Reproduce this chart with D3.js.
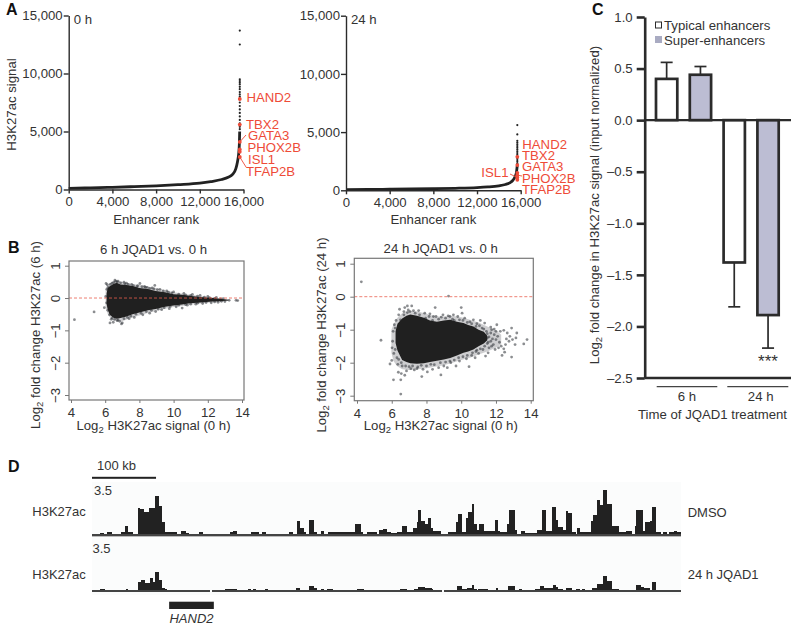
<!DOCTYPE html>
<html>
<head>
<meta charset="utf-8">
<script src="https://cdn.jsdelivr.net/npm/d3@7"></script>
<style>
body { margin: 0; background: #fff; }
svg { display: block; }
text { font-family: "Liberation Sans", Arial, sans-serif; fill: #333; }
</style>
</head>
<body>
<svg id="fig" width="791" height="626"></svg>
<script>
// A: enhancer rank plots, [rank, signal]
var rankCurve0h = [[0,100],[2000,140],[4000,190],[6000,250],[8000,320],[10000,420],[12000,550],[13000,680],[14000,860],[14600,1050],[15000,1300],[15300,1800],[15450,2400],[15550,3000],[15620,3900],[15650,5000]];
var topDots0h = [13700,12500,9500,9350,9200,9050,8850,8650,8400,8200,8000,7800,7500,7200,6900,6600,6300,6000,5700,5400,5200];
var genes = ["HAND2","TBX2","GATA3","PHOX2B","ISL1","TFAP2B"];
var geneSignal0h = [7800,5600,4100,3450,3250,2800];
var rankCurve24h = [[0,55],[2000,70],[4000,90],[6000,110],[8000,135],[10000,170],[12000,230],[13000,290],[14000,390],[14600,500],[15000,640],[15300,880],[15500,1200],[15620,1600],[15680,2100]];
var topDots24h = [5600,4800,4250,4100,3950,3800,3650,3500,3350,3200,3050,2900,2750,2600,2450,2300,2150];
var geneSignal24h = [2880,2170,1500,1300,1100,900];
var rankTicks = [0,4000,8000,12000,16000];
var signalTicks = [0,5000,10000,15000];

// B: MA plots, dense core and thinner halo as [log2 signal, low, high], plus the loose points around them
var maCore6h = [[6.08,-.18,.14],[6.14,-.34,.3],[6.25,-.5,.36],[6.45,-.6,.43],[6.67,-.64,.47],[6.9,-.62,.42],[7.25,-.57,.4],[7.6,-.5,.37],[8,-.45,.31],[8.5,-.38,.28],[8.95,-.34,.22],[9.5,-.27,.18],[10,-.23,.12],[10.5,-.2,.1],[10.95,-.16,.07],[11.4,-.15,.04],[11.9,-.12,.02],[12.3,-.11,0],[12.7,-.1,-.02],[13.2,-.08,-.05]];
var maHalo6h = [[6.02,-.28,.3],[6.15,-.5,.42],[6.4,-.68,.5],[6.7,-.72,.53],[7,-.72,.5],[7.5,-.62,.44],[8,-.54,.4],[8.5,-.46,.36],[9,-.4,.3],[9.5,-.33,.24],[10,-.28,.18],[10.5,-.25,.14],[11,-.2,.1],[11.5,-.18,.07],[12,-.15,.04],[12.5,-.12,.01],[13,-.1,-.03],[13.3,-.08,-.05]];
var maDots6h = [[4.2,-.67],[5.35,-.43],[5.95,-.3],[6.03,.05],[6.05,.45],[6.12,.41],[6.1,.27],[6.08,-.15],[6.15,-.38],[6.18,.33],[6.28,-.77],[6.47,-.75],[6.35,-.66],[6.4,.46],[6.57,.55],[6.62,.52],[6.75,.52],[6.85,-.72],[6.95,-.8],[7,-.77],[6.7,-.7],[7.1,.49],[7.25,.46],[7.4,-.64],[7.55,.42],[7.7,-.6],[7.9,.38],[8.03,.45],[8.2,-.52],[8.3,.36],[8.45,.33],[8.6,-.47],[8.9,.39],[8.75,.31],[8.95,-.42],[9.2,.27],[9.3,-.36],[9.6,.22],[9.75,-.33],[10,.19],[10.15,-.27],[10.5,-.31],[10.6,.14],[10.8,-.22],[11.1,.11],[11.3,-.19],[11.55,.08],[11.7,-.17],[12,.05],[12.2,-.15],[12.5,.02],[12.6,-.13],[12.9,-.02],[13,-.11],[13.25,-.07],[13.65,-.07],[13.75,-.08],
[6.3,.42],[6.5,.48],[6.7,.5],[6.9,.47],[7.15,.44],[7.35,.42],[7.65,.38],[7.85,.35],[8.15,.35],[8.35,.33],[8.6,.3],[8.85,.28],[9.05,.26],[9.4,.22],[9.7,.18],[9.9,.16],[10.3,.12],[10.7,.1],[11,.08],[11.4,.06],[11.8,.03],[12.1,.01],[12.4,-.01],[12.75,-.03],[6.25,-.52],[6.4,-.62],[6.55,-.66],[6.75,-.68],[7.1,-.64],[7.3,-.6],[7.5,-.56],[7.8,-.5],[8.1,-.47],[8.4,-.42],[8.7,-.38],[9.1,-.34],[9.45,-.3],[9.8,-.26],[10.3,-.22],[10.7,-.2],[11,-.19],[11.4,-.16],[11.9,-.14],[12.4,-.12],[12.8,-.1]];
var maCore24h = [[6.22,-1.4,-1.05],[6.33,-1.63,-.82],[6.6,-1.92,-.66],[6.85,-1.98,-.58],[7.07,-2.02,-.54],[7.45,-2.03,-.58],[7.85,-2.02,-.64],[8.2,-1.98,-.72],[8.6,-1.94,-.76],[9,-1.9,-.72],[9.37,-1.86,-.7],[9.75,-1.78,-.76],[10.13,-1.7,-.8],[10.4,-1.66,-.86],[10.7,-1.6,-.9],[11,-1.5,-1],[11.3,-1.42,-1.06],[11.5,-1.32,-1.18]];
var maHalo24h = [[5.98,-1.7,-1],[6.1,-1.95,-.85],[6.3,-2.1,-.65],[6.6,-2.2,-.5],[7,-2.22,-.42],[7.5,-2.2,-.45],[8,-2.17,-.52],[8.5,-2.12,-.6],[9,-2.08,-.6],[9.5,-2,-.58],[10,-1.92,-.62],[10.5,-1.85,-.7],[11,-1.75,-.78],[11.5,-1.66,-.9],[12,-1.55,-1.02],[12.3,-1.45,-1.15]];
var maDots24h = [[4.25,.45],[5.38,-1.32],[9.27,.02],[6.52,-2.95],[6.1,-2.52],[6.52,-2.52],[6.38,-2.29],[6,-1.93],[5.9,-2.04],[6.55,-2.33],[6.75,-2.38],[7.73,-2.42],[8.83,-2.37],[13.79,-1.3],[13.6,-1.43],[12.9,-1.83],[12.9,-.95],[12.05,-.85],[12.45,-1.02],[12.65,-1.1],[13.2,-1.1],[13.15,-1.25],[13.1,-1.45],[12.95,-1.3],[12.75,-1.35],[12.6,-1.28],[12.5,-1.68],[12.45,-1.58],[12.3,-1.5],[12.2,-1.38],[12.1,-1.2],[12,-1.05],[11.95,-1.6],[11.85,-1.45],[11.8,-1.28],[11.7,-1.1],[11.7,-.92],[11.6,-1.55],[11.55,-1.7],[11.5,-1.42],[11.45,-1.05],[11.35,-.8],[11.4,-1.8],[11.25,-1.6],[11.2,-.95],[11.1,-.72],[11,-1.72],[10.9,-.82],[10.8,-1.85],[10.7,-.7],[10.6,-1.78],[10.5,-.76],[10.45,-2.12],[10.3,-1.88],[10.2,-.65],[10.05,-.5],[10,-.33],[9.9,-1.95],[9.8,-.6],[9.7,-2.1],[9.55,-.55],[9.4,-2],[9.25,-.58],[9.2,-2.15],[9,-2.1],[8.95,-.55],[8.7,-2.15],[8.55,-.6],[8.5,-.33],[8.35,-2.2],[8.2,-.52],[8.05,-2.28],[7.9,-.5],[7.8,-2.2],[7.55,-.42],[7.45,-2.18],[7.25,-.42],[7.15,-.28],[7.1,-2.18],[6.95,-.4],[6.85,-2.25],[6.75,-.33],[6.7,-.45],[6.6,-2.1],[6.45,-.38],[6.4,-.55],[6.35,-2.05],[6.3,-1.85],[6.25,-.72],[6.15,-.85],[6.12,-1.72],[6.08,-1.05],[6.05,-1.35],[6.02,-1.55],[6.2,-.95],[6.2,-1.6],[6.9,-.28],[7.3,-2.22],[8.4,-.6],[9.6,-.72],[10.9,-1.62],[11.25,-1.28],[11.6,-1.22],[11.9,-.98],[12.25,-1.05],[12.35,-1.78],
[6.5,-.7],[6.7,-.55],[6.9,-.48],[7.05,-.45],[7.35,-.5],[7.6,-.55],[7.95,-.65],[8.15,-.6],[8.35,-.72],[8.7,-.68],[8.85,-.62],[9.1,-.65],[9.35,-.6],[9.5,-.68],[9.9,-.7],[10.1,-.72],[10.35,-.78],[10.6,-.82],[10.85,-.9],[11.05,-.88],[11.3,-.98],[11.5,-1.12],[11.75,-1],[6.4,-1.9],[6.55,-2],[6.8,-2.1],[7,-2.12],[7.2,-2.1],[7.5,-2.13],[7.7,-2.08],[8,-2.1],[8.25,-2.05],[8.45,-2.06],[8.8,-2],[9.1,-1.98],[9.35,-1.95],[9.6,-1.92],[9.85,-1.85],[10.1,-1.82],[10.35,-1.78],[10.65,-1.7],[10.85,-1.66],[11.1,-1.58],[11.35,-1.5],[11.55,-1.38],[11.75,-1.5],[12,-1.3],[11.9,-1.15],[12.15,-1.55],[11.5,-1.25],[11.7,-1.35],[12.55,-1.45],[12.8,-1.2]];
var maFcTicks = [-3,-2,-1,0,1];
var maSignalTicks = [4,6,8,10,12,14];

// C: mean change and the end of its error bar
var barGroups = ["6 h typical","6 h super","24 h typical","24 h super"];
var barValues = [.40,.44,-1.38,-1.89];
var barErrors = [.56,.52,-1.81,-2.21];
var barKinds = ["typical","super","typical","super"];
var changeTicks = [1,.5,0,-.5,-1,-1.5,-2,-2.5];

// D: tracks, [start kb, end kb, signal]
var dmsoTrack = [[12.5,18.7,.12],[24,30.7,.15],[44.8,51.6,.2],[51.6,56.8,.65],[56.8,63.5,.15],[72.4,75,1.95],[75,81.2,1.88],[81.2,89.6,1.7],[89.6,98.4,1.95],[98.4,105.2,2.92],[105.2,109.4,2.15],[109.4,114,.9],[114,132.3,.15],[139,146.9,.25],[146.9,151,.12],[167.2,173.4,.15],[215.6,219.8,.15],[219.8,226,.25],[248.4,260.4,.15],[266.1,272.4,.15],[307.8,314.6,.15],[319.8,325,1],[325,330.7,.5],[330.7,333.8,.15],[339.6,347.4,1.1],[347.4,351,.15],[357.8,362.5,.25],[369.2,379.6,.15],[379.6,384.9,.22],[384.9,411,.15],[411,419.8,.8],[419.8,424,.15],[430.2,444.8,.15],[448.4,455.2,.32],[455.2,460.4,.38],[460.4,466.6,.15],
[466.6,477,.08],[477,484.9,.15],[484.9,491.6,.6],[491.6,502,.15],[502,507.3,.5],[507.3,509.9,.95],[509.9,514,1.82],[514,520.3,1.02],[520.3,524.5,.75],[524.5,529.7,1.2],[529.7,533.3,.5],[533.3,545.3,.25],[556.7,568.2,.15],[568.2,571.3,.95],[571.3,577.6,1.5],[577.6,584.3,.15],[584.3,588,1.2],[588,593.2,1.65],[593.2,597.4,2.28],[597.4,601,.82],[601,605.2,.32],[605.2,612,.78],[612,629.7,.25],[629.7,634.9,1.1],[634.9,637.5,.25],[637.5,647.9,.15],[647.9,652,.82],[652,660.9,1.82],[660.9,664.5,.32],[669.8,676.5,.25],[676.5,694.8,.1],[694.8,702.6,.32],[702.6,708.8,1.82],[708.8,719.2,.25],[719.2,724.4,2.05],[724.4,728.6,1.08],[728.6,736.4,.58],[736.4,740.6,.32],[740.6,744.2,1.78],[744.2,749.4,1.58],[749.4,756.2,.15],[757.2,762.5,.45],[762.5,779.6,.15],[779.6,783.3,1],[783.3,788.5,1.45],[788.5,793.7,2.58],[793.7,798.9,2.2],[798.9,804.1,3.32],[804.1,811.9,2.32],[811.9,823.9,.62],[823.9,834.3,.2],[834.3,844.2,.25],[847.4,850,.65],[850,861.4,1.82],[861.4,864,.25],[864,870.8,.9],[870.8,874.4,1],[874.4,880.7,2.05],[880.7,888,.15],[891.6,897.9,.15],[902,908.3,.2],[908.3,914.5,.25],[914.5,920,.15]];
var jqadTrack = [[12.5,19.8,.1],[53.1,56.2,.08],[72.4,76,.62],[76,82.8,.82],[82.8,90.6,.58],[90.6,94.8,.95],[94.8,98.4,.62],[98.4,105.2,1.35],[105.2,109.4,.75],[109.4,114,.2],[114,116.7,.08],[208.3,215.6,.1],[215.6,226,.1],[244.3,247.9,.1],[252,256.2,.1],[270.3,274.5,.1],[318.7,325,.2],[339.6,347.4,.3],[347.4,351,.15],[357.3,362.5,.08],[367.7,377,.12],[413.5,421.3,.1],[421.3,425.5,.08],
[481.2,491.6,.12],[503.1,509.9,.12],[509.9,520.3,.28],[520.3,524.5,.18],[524.5,530.7,.22],[530.7,533.3,.08],[569.8,578.1,.3],[578.1,585.4,.12],[585.4,593.2,.22],[593.2,597.4,.42],[597.4,602,.1],[603.6,619.2,.08],[630.7,634.9,.2],[650.5,660.9,.3],[667.7,672.4,.08],[682.8,687,.06],[692.1,699.9,.12],[699.9,706.7,.3],[706.7,719.8,.22],[719.8,724.4,.42],[724.4,728.6,.25],[728.6,736.4,.12],[740,749.4,.22],[756.2,762.5,.08],[765,770.3,.08],[780.7,788.5,.18],[788.5,798.9,.5],[798.9,804.1,1.05],[804.1,811.9,.72],[811.9,823.4,.08],[849.4,857.2,.42],[857.2,862.5,.25],[862.5,871.8,.2],[874.4,880.7,.62]];
var jqadBaseline = [[0,184.4],[187.5,546.3],[549.4,920]];
var dmsoBaseline = [[0,920]];
var geneSpan = [120.5,190.3];

var INK = "#2b2b2b", RED = "#ee4b38", FONT = 13.2;
var svg = d3.select("#fig");

function label(x, y, str, opts) {
	opts = opts || {};
	var t = svg.append("text").attr("x", x).attr("y", y)
		.style("font-size", (opts.size || FONT) + "px");
	if (opts.anchor) t.attr("text-anchor", opts.anchor);
	if (opts.color) t.style("fill", opts.color);
	if (opts.bold) t.style("font-weight", "bold").style("fill", "#111");
	if (opts.italic) t.style("font-style", "italic");
	if (opts.rotate) t.attr("transform", "rotate(-90 " + x + " " + y + ")");
	// "_2" in a label means a subscript 2
	str.split("_2").forEach(function(part, i) {
		if (i > 0) t.append("tspan").attr("dy", 3).style("font-size", "9.5px").text("2");
		t.append("tspan").attr("dy", i > 0 ? -3 : 0).text(part);
	});
	return t;
}

function styleAxis(g, width, color) {
	g.selectAll("path,line").attr("stroke", color || INK).attr("stroke-width", width);
	g.selectAll("text").style("font-size", FONT + "px").style("font-family", '"Liberation Sans", Arial, sans-serif').attr("fill", "#333");
}

// ---- A
function rankPlot(cfg) {
	var x = d3.scaleLinear().domain([0,16000]).range(cfg.xr);
	var y = d3.scaleLinear().domain([0,15000]).range(cfg.yr);
	var line = d3.line().x(function(d) { return x(d[0]); }).y(function(d) { return y(d[1]); }).curve(d3.curveMonotoneX);

	svg.append("path").datum(cfg.curve).attr("d", line).attr("fill", "none").attr("stroke", "#222").attr("stroke-width", 2.8);
	svg.append("g").selectAll("circle").data(cfg.dots).join("circle")
		.attr("cx", x(cfg.dotRank)).attr("cy", function(d) { return y(d); }).attr("r", 1.1).attr("fill", "#222");

	var ax = svg.append("g").attr("transform", "translate(0," + cfg.yr[0] + ")")
		.call(d3.axisBottom(x).tickValues(rankTicks).tickFormat(d3.format(",")).tickSizeInner(4).tickSizeOuter(0).tickPadding(3));
	styleAxis(ax, 1.4);
	var ay = svg.append("g").attr("transform", "translate(" + cfg.xr[0] + ",0)")
		.call(d3.axisLeft(y).tickValues(signalTicks).tickFormat(d3.format(",")).tickSizeInner(5).tickSizeOuter(0).tickPadding(1));
	styleAxis(ay, 1.4);

	cfg.links.forEach(function(l) {
		svg.append("line").attr("x1", x(cfg.dotRank)).attr("y1", y(cfg.genes[l[0]]))
			.attr("x2", l[1]).attr("y2", l[2]).attr("stroke", RED).attr("stroke-width", .9);
	});
	svg.append("g").selectAll("circle").data(cfg.genes).join("circle")
		.attr("cx", x(cfg.dotRank)).attr("cy", function(d) { return y(d); }).attr("r", 1.9).attr("fill", RED);

	genes.forEach(function(g, i) {
		label(cfg.labels[i][0], cfg.labels[i][1], g, {color: RED, anchor: cfg.labels[i][2]});
	});
	label((cfg.xr[0] + cfg.xr[1]) / 2, 224, "Enhancer rank", {anchor: "middle"});
	label(cfg.xr[0] + 5, 23.5, cfg.title);
}

rankPlot({xr: [68.7,243.5], yr: [189.5,15.5], curve: rankCurve0h, dots: topDots0h, dotRank: 15660, genes: geneSignal0h, title: "0 h",
	links: [[2,246,135],[5,246,167]],
	labels: [[246.5,102],[246,128.5],[248,140],[247.5,152],[248,164],[246,176]]});
rankPlot({xr: [346,520.7], yr: [190.3,15.7], curve: rankCurve24h, dots: topDots24h, dotRank: 15690, genes: geneSignal24h, title: "24 h",
	links: [[4,510,174],[3,522,176]],
	labels: [[522.3,149],[522,160],[522,171],[522,182.5],[508.5,177,"end"],[522,193.5]]});
label(16, 104.5, "H3K27ac signal", {rotate: true, anchor: "middle"});

// ---- B
function maPlot(cfg) {
	var x = d3.scaleLinear().domain([4,14]).range(cfg.xr);
	var y = d3.scaleLinear().domain([-3,1]).range(cfg.yr);
	var g = svg.append("g");
	var band = d3.area().x(function(d) { return x(d[0]); }).y0(function(d) { return y(d[1]); }).y1(function(d) { return y(d[2]); });

	g.append("path").datum(cfg.halo).attr("d", band).attr("fill", "#3a3d42").attr("fill-opacity", .25);
	g.selectAll("circle").data(cfg.dots).join("circle")
		.attr("cx", function(d) { return x(d[0]); }).attr("cy", function(d) { return y(d[1]); })
		.attr("r", 1.4).attr("fill", "#2c3035").attr("fill-opacity", .55);
	g.append("path").datum(cfg.core).attr("d", band).attr("fill", "#202020");

	svg.append("line").attr("x1", cfg.box[0]).attr("x2", cfg.box[2]).attr("y1", y(0)).attr("y2", y(0))
		.attr("stroke", "#e9604f").attr("stroke-width", .8).attr("stroke-dasharray", "3,2");
	svg.append("rect").attr("x", cfg.box[0]).attr("y", cfg.box[1]).attr("width", cfg.box[2] - cfg.box[0]).attr("height", cfg.box[3] - cfg.box[1])
		.attr("fill", "none").attr("stroke", "#777").attr("stroke-width", 1.2);

	var ax = svg.append("g").attr("transform", "translate(0," + cfg.box[3] + ")")
		.call(d3.axisBottom(x).tickValues(maSignalTicks).tickFormat(d3.format("d")).tickSizeInner(3).tickSizeOuter(0).tickPadding(5));
	styleAxis(ax, 1, "#777");
	ax.select(".domain").remove();
	var ay = svg.append("g").attr("transform", "translate(" + cfg.box[0] + ",0)")
		.call(d3.axisLeft(y).tickValues(maFcTicks).tickFormat(function(d) { return d < 0 ? "\u2212" + (-d) : d; }).tickSizeInner(4).tickSizeOuter(0));
	styleAxis(ay, 1, "#777");
	ay.select(".domain").remove();
	ay.selectAll("text").attr("x", 0).attr("dy", 0).attr("text-anchor", "middle")
		.attr("transform", "translate(-9,0) rotate(-90) translate(0,0)");

	var mid = (cfg.box[0] + cfg.box[2]) / 2;
	label(mid - 3, cfg.titleY, cfg.title, {anchor: "middle"});
	label(mid - 3, 430, "Log_2 H3K27ac signal (0 h)", {anchor: "middle"});
	label(cfg.ylabelX, 335, cfg.ylabel, {rotate: true, anchor: "middle"});
}

maPlot({xr: [71,242], yr: [395,265.7], box: [69,261,244,400], core: maCore6h, halo: maHalo6h, dots: maDots6h, title: "6 h JQAD1 vs. 0 h", titleY: 254,
	ylabel: "Log_2 fold change H3K27ac (6 h)", ylabelX: 39.5});
maPlot({xr: [357,530.7], yr: [395.7,263.7], box: [354.3,258.3,533.3,400.7], core: maCore24h, halo: maHalo24h, dots: maDots24h, title: "24 h JQAD1 vs. 0 h", titleY: 252.5,
	ylabel: "Log_2 fold change H3K27ac (24 h)", ylabelX: 326});

// ---- C
var cy = d3.scaleLinear().domain([-2.5,1]).range([378,17]);
var cx = d3.scaleBand().domain(barGroups).range([656,778.7]).paddingInner(.37).paddingOuter(0);
var barIdx = d3.range(barGroups.length);

svg.append("g").selectAll("line").data(barIdx).join("line")
	.attr("x1", function(i) { return cx(barGroups[i]) + cx.bandwidth() / 2; })
	.attr("x2", function(i) { return cx(barGroups[i]) + cx.bandwidth() / 2; })
	.attr("y1", function(i) { return cy(barValues[i]); })
	.attr("y2", function(i) { return cy(barErrors[i]); })
	.attr("stroke", INK).attr("stroke-width", 1.7);
svg.append("g").selectAll("line").data(barIdx).join("line")
	.attr("x1", function(i) { return cx(barGroups[i]) + cx.bandwidth() / 2 - 6; })
	.attr("x2", function(i) { return cx(barGroups[i]) + cx.bandwidth() / 2 + 6; })
	.attr("y1", function(i) { return cy(barErrors[i]); })
	.attr("y2", function(i) { return cy(barErrors[i]); })
	.attr("stroke", INK).attr("stroke-width", 1.7);
svg.append("g").selectAll("rect").data(barIdx).join("rect")
	.attr("x", function(i) { return cx(barGroups[i]); })
	.attr("width", cx.bandwidth())
	.attr("y", function(i) { return Math.min(cy(barValues[i]), cy(0)); })
	.attr("height", function(i) { return Math.abs(cy(barValues[i]) - cy(0)); })
	.attr("fill", function(i) { return barKinds[i] == "super" ? "#bcbdd3" : "#fff"; })
	.attr("stroke", INK).attr("stroke-width", 2.7);

var cAxis = svg.append("g").attr("transform", "translate(644.7,0)")
	.call(d3.axisLeft(cy).tickValues(changeTicks).tickSizeInner(8).tickSizeOuter(0).tickPadding(4)
		.tickFormat(function(d) { return (d < 0 ? "\u2013" : "") + Math.abs(d).toFixed(1); }));
styleAxis(cAxis, 2.6);
svg.append("line").attr("x1", 644.7).attr("x2", 791).attr("y1", cy(0)).attr("y2", cy(0)).attr("stroke", INK).attr("stroke-width", 2.2);
svg.append("line").attr("x1", 644.7).attr("x2", 791).attr("y1", cy(-2.5)).attr("y2", cy(-2.5)).attr("stroke", INK).attr("stroke-width", 2.6);

svg.append("rect").attr("x", 655.5).attr("y", 22).attr("width", 6).attr("height", 6).attr("fill", "#fff").attr("stroke", INK).attr("stroke-width", 1);
svg.append("rect").attr("x", 655).attr("y", 36).attr("width", 7).attr("height", 7).attr("fill", "#a9abc2");
label(664, 29.5, "Typical enhancers");
label(664, 44.5, "Super-enhancers");

svg.append("line").attr("x1", 656.7).attr("x2", 717.3).attr("y1", 386.7).attr("y2", 386.7).attr("stroke", "#444").attr("stroke-width", 1.2);
svg.append("line").attr("x1", 727.3).attr("x2", 788.3).attr("y1", 386.7).attr("y2", 386.7).attr("stroke", "#444").attr("stroke-width", 1.2);
label(687, 401, "6 h", {anchor: "middle"});
label(760.7, 401, "24 h", {anchor: "middle"});
label(712.5, 419, "Time of JQAD1 treatment", {anchor: "middle"});
label(768, 367, "***", {anchor: "middle", size: 17});
label(598.5, 205, "Log_2 fold change in H3K27ac signal (input normalized)", {rotate: true, anchor: "middle"});

// ---- D
var kb = d3.scaleLinear().domain([0,920]).range([92,681]);
var sig = d3.scaleLinear().domain([0,3.5]).range([0,46.7]);

svg.append("rect").attr("x", kb(0)).attr("y", 482).attr("width", kb(920) - kb(0)).attr("height", 113).attr("fill", "#fbfcfc");

function track(rows, baseline, base, under) {
	var g = svg.append("g").attr("shape-rendering", "crispEdges");
	g.append("g").selectAll("rect").data(rows).join("rect")
		.attr("x", function(d) { return kb(d[0]); })
		.attr("width", function(d) { return kb(d[1]) - kb(d[0]); })
		.attr("y", function(d) { return base - sig(d[2]); })
		.attr("height", function(d) { return sig(d[2]) + 1; })
		.attr("fill", "#222");
	g.append("g").selectAll("rect").data(baseline).join("rect")
		.attr("x", function(d) { return kb(d[0]); })
		.attr("width", function(d) { return kb(d[1]) - kb(d[0]); })
		.attr("y", base - .5).attr("height", 1.5).attr("fill", "#444");
	if (under) g.append("rect").attr("x", kb(0)).attr("width", kb(920) - kb(0)).attr("y", base + 1).attr("height", 1).attr("fill", under);
}
track(dmsoTrack, dmsoBaseline, 534.5, "#bbb");
track(jqadTrack, jqadBaseline, 590.5);

svg.append("rect").attr("x", kb(0)).attr("y", 476.8).attr("width", kb(100) - kb(0)).attr("height", 2).attr("fill", "#222");
svg.append("rect").attr("x", kb(geneSpan[0])).attr("y", 601.7).attr("width", kb(geneSpan[1]) - kb(geneSpan[0])).attr("height", 7.3).attr("fill", "#222");

label(97, 470, "100 kb", {size: 13});
label(94, 495, "3.5", {size: 13});
label(92.5, 553, "3.5", {size: 13});
label(32.3, 516, "H3K27ac", {size: 13});
label(32.3, 579, "H3K27ac", {size: 13});
label(687.7, 517, "DMSO", {size: 13});
label(687.7, 579, "24 h JQAD1", {size: 13});
label(191.5, 622.5, "HAND2", {size: 13, anchor: "middle", italic: true});

// panel letters
label(6, 14.5, "A", {size: 16, bold: true});
label(8, 253, "B", {size: 16, bold: true});
label(592, 14.5, "C", {size: 16, bold: true});
label(8, 472, "D", {size: 16, bold: true});
</script>
</body>
</html>
